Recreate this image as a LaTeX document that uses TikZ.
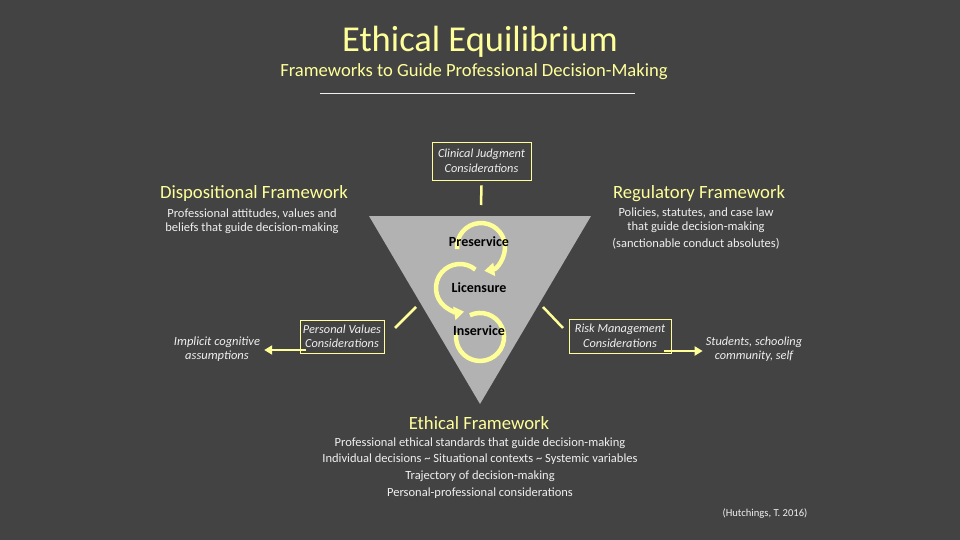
\documentclass[tikz,border=0pt]{standalone}
\usepackage{fontspec}
\setmainfont{Carlito}
\usepackage{xcolor}
\usetikzlibrary{arrows.meta}

\definecolor{bgdark}{RGB}{67,67,67}
\definecolor{paleyellow}{RGB}{255,255,153}
\definecolor{trigray}{RGB}{178,178,178}
\definecolor{softwhite}{RGB}{240,240,240}

\begin{document}
\begin{tikzpicture}[x=1pt,y=-1pt,
	heading/.style={text=paleyellow, font=\fontsize{18.7}{21}\selectfont, inner sep=0pt},
	bodytext/.style={text=softwhite, font=\fontsize{12.5}{14}\selectfont, align=center, inner sep=0pt},
	considerbox/.style={draw=paleyellow, line width=0.8pt, text=softwhite, font=\fontsize{12.3}{14.5}\selectfont\itshape, align=center, inner sep=0pt},
	sidetext/.style={text=softwhite, font=\fontsize{12.3}{14}\selectfont\itshape, align=center, inner sep=0pt},
	stagetext/.style={text=black, font=\fontsize{14}{16}\selectfont\bfseries, inner sep=0pt},
	loopline/.style={draw=paleyellow, line width=4.5pt},
	yline/.style={draw=paleyellow, line width=2.5pt},
	yarrow/.style={yline, -{Triangle[length=8pt,width=9pt]}}]
					\def\W{960};
					\def\H{540};
					
					\def\triTop{216};
					\def\triL{369};
					\def\triR{591};
					\def\apexX{480};
					\def\apexY{404};
					\def\loopR{24};
					
					\fill[bgdark] (0,0) rectangle (\W,\H);
					
					% title
					\begin{scope}
						\node[text=paleyellow, font=\fontsize{36.5}{40}\selectfont, inner sep=0pt] (title) at (480,42) {Ethical Equilibrium};
						\node[text=paleyellow, font=\fontsize{18.6}{21}\selectfont, inner sep=0pt] (subtitle) at (474,72) {Frameworks to Guide Professional Decision-Making};
						\draw[softwhite, line width=0.6pt] (320,93) -- (635,93);
					\end{scope}
					
					% triangle and loops
					\begin{scope}
						\fill[trigray] (\triL,\triTop) -- (\triR,\triTop) -- (\apexX,\apexY) -- cycle;
						\draw[loopline, -{Triangle[length=10pt,width=13pt]}] (457.1,249.1) arc[start angle=175, end angle=442, radius=\loopR];
						\draw[loopline, -{Triangle[length=10pt,width=13pt]}] (475.4,269.6) arc[start angle=-50, end angle=-280, radius=\loopR];
						\draw[loopline] (469.9,315.2) arc[start angle=-115, end angle=190, radius=\loopR];
						\node[stagetext] (preservice) at (479,242) {Preservice};
						\node[stagetext] (licensure) at (479,288) {Licensure};
						\node[stagetext] (inservice) at (479,331) {Inservice};
					\end{scope}
					
					% frameworks
					\begin{scope}
						\node[heading] (dispo) at (254,194) {Dispositional Framework};
						\node[bodytext] (dispotext) at (252,221) {Professional attitudes, values and\\beliefs that guide decision-making};
						\node[heading] (regul) at (699,194) {Regulatory Framework};
						\node[bodytext] (regultext) at (696,229) {Policies, statutes, and case law\\that guide decision-making\\[3pt](sanctionable conduct absolutes)};
						\node[heading] (ethic) at (479,423) {Ethical Framework};
						\node[bodytext, font=\fontsize{12.5}{16.7}\selectfont] (ethictext) at (480,468) {Professional ethical standards that guide decision-making\\Individual decisions \textasciitilde{} Situational contexts \textasciitilde{} Systemic variables\\Trajectory of decision-making\\Personal-professional considerations};
					\end{scope}
					
					% considerations
					\begin{scope}
						\node[considerbox, minimum width=99pt, minimum height=38pt] (clinical) at (481.5,161) {Clinical Judgment\\Considerations};
						\node[considerbox, minimum width=84pt, minimum height=33pt] (personal) at (342,336.5) {Personal Values\\Considerations};
						\node[considerbox, minimum width=102pt, minimum height=34pt] (risk) at (620,336) {Risk Management\\Considerations};
						\node[sidetext, font=\fontsize{12.5}{14}\selectfont\itshape] (implicit) at (217,349) {Implicit cognitive\\assumptions};
						\node[sidetext] (students) at (754,349) {Students, schooling\\community, self};
						\node[text=softwhite, font=\fontsize{10.6}{12}\selectfont, inner sep=0pt] (cite) at (765,514) {(Hutchings, T. 2016)};
					\end{scope}
					
					% connectors
					\begin{scope}
						\coordinate (clinend) at (481,205);
						\coordinate (leftlo) at (395,328);
						\coordinate (lefthi) at (416,307);
						\coordinate (righthi) at (543,307);
						\coordinate (rightlo) at (563,328);
						\coordinate (pvout) at (306,350);
						\coordinate (rmout) at (664,351);
						\draw[yline] ([yshift=-5pt]clinical.south) -- (clinend);
						\draw[yline] (leftlo) -- (lefthi);
						\draw[yline] (righthi) -- (rightlo);
						\draw[yarrow, shorten >=4pt] (pvout) -- (pvout -| implicit.east);
						\draw[yarrow, shorten >=3pt] (rmout) -- (rmout -| students.west);
					\end{scope}
				\end{tikzpicture}
\end{document}
